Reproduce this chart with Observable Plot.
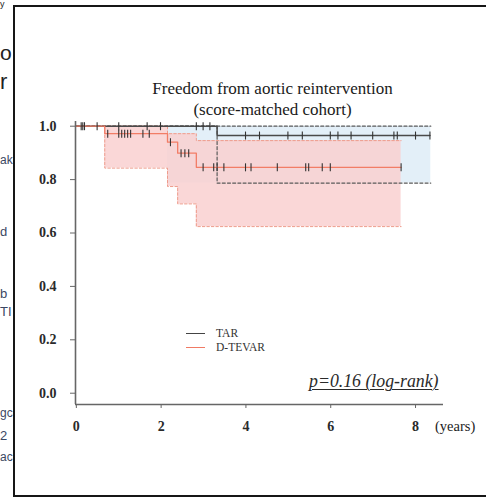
<!DOCTYPE html>
<html><head><meta charset="utf-8">
<script src="https://cdn.jsdelivr.net/npm/d3@7"></script>
<script src="https://cdn.jsdelivr.net/npm/@observablehq/plot@0.6"></script>
<style>
html,body{margin:0;padding:0;background:#fff;width:486px;height:499px;overflow:hidden;}
body{position:relative;font-family:"Liberation Serif","Times New Roman",serif;color:#222;}
#frame{position:absolute;left:13px;top:5px;width:520px;height:492px;border:2.5px solid #161616;box-sizing:border-box;}
#title{position:absolute;left:0;width:545px;top:77.5px;text-align:center;font-size:17px;line-height:21px;color:#1a1a1a;}
#chart{position:absolute;left:0;top:112px;}
#legend{position:absolute;left:186px;top:326px;font-size:11.5px;line-height:14.4px;color:#333;}
#legend div{display:flex;align-items:center;}
#legend span.sw{display:inline-block;width:19px;height:0;border-top:1.3px solid;margin-right:11px;}
#pval{position:absolute;left:309px;top:373px;font-size:17.8px;line-height:17px;font-style:italic;text-decoration:underline;text-decoration-thickness:1px;text-underline-offset:2px;color:#2a2a2a;}
#years{position:absolute;left:435px;top:418px;font-size:14.5px;line-height:17px;color:#222;}
.frag{position:absolute;left:0;font-family:"Liberation Sans","DejaVu Sans",sans-serif;white-space:nowrap;line-height:1;}
</style></head>
<body>
<div class="frag" style="top:0px;font-size:9px;color:#222;">y</div>
<div class="frag" style="top:42px;font-size:21px;color:#222;">o</div>
<div class="frag" style="top:71px;font-size:22px;color:#222;">r</div>
<div class="frag" style="top:154px;font-size:12px;color:#3b4763;">ak</div>
<div class="frag" style="top:225px;font-size:13px;color:#3b4763;">d</div>
<div class="frag" style="top:287px;font-size:13px;color:#3b4763;">b</div>
<div class="frag" style="top:305px;font-size:13px;color:#3b4763;">TI</div>
<div class="frag" style="top:407px;font-size:12px;color:#3b4763;">gc</div>
<div class="frag" style="top:429px;font-size:13px;color:#3b4763;">2</div>
<div class="frag" style="top:451px;font-size:12px;color:#3b4763;">ac</div>
<div id="frame"></div>
<div id="title">Freedom from aortic reintervention<br>(score-matched cohort)</div>
<div id="chart"></div>
<div id="legend">
  <div><span class="sw" style="border-color:#444"></span>TAR</div>
  <div><span class="sw" style="border-color:#f07a64"></span>D-TEVAR</div>
</div>
<div id="pval">p=0.16 (log-rank)</div>
<div id="years">(years)</div>
<script>
// ---- data ----
const groups = ["TAR", "D-TEVAR"];
const tarTime = [0, 3.32, 8.34];
const tarSurv = [1, 0.965, 0.965];
const tevTime = [0, 0.67, 2.15, 2.39, 2.83, 7.66];
const tevSurv = [1, 0.972, 0.940, 0.899, 0.846, 0.846];

const tarCITime = [0, 3.32, 8.36];
const tarCILow  = [1, 0.787, 0.787];
const tarCIHigh = [1, 1, 1];
const tarShadeTime = [2.15, 8.36];
const tarShadeLow  = [0.787, 0.787];
const tarShadeHigh = [1, 1];

const tevCITime = [0.67, 2.15, 2.39, 2.83, 7.66];
const tevCILow  = [0.843, 0.774, 0.709, 0.624, 0.624];
const tevCIHigh = [1.0, 0.972, 0.972, 0.946, 0.946];

const tarCensor = [0.114, 0.152, 0.192, 0.49, 1.0, 1.67, 1.985, 2.83, 2.99, 3.15,
                   3.99, 4.32, 4.99, 5.33, 5.99, 6.17, 6.48, 6.99, 7.49, 7.57, 8.0, 8.34];
const tevCensor = [0.74, 1.0, 1.07, 1.14, 1.21, 1.28, 1.57, 1.72, 2.22, 2.47, 2.56, 2.65,
                   2.99, 3.24, 3.32, 3.48, 3.99, 4.12, 4.74, 5.41, 5.48, 5.80, 5.99, 7.66];

const xTicks = [0, 2, 4, 6, 8];
const yTicks = [0, 0.2, 0.4, 0.6, 0.8, 1.0];
const xDomain = [-0.02, 8.66];
const yDomain = [-0.0423, 1.0176];

// ---- build tables ----
const zip = (t, ...cols) => t.map((v, i) => ({t: v, a: cols[0]?.[i], b: cols[1]?.[i]}));
const stepAt = (times, surv, x) => { let s = surv[0]; times.forEach((t, i) => { if (t <= x) s = surv[i]; }); return s; };
const tarLine = zip(tarTime, tarSurv);
const tevLine = zip(tevTime, tevSurv);
const tarShade = zip(tarShadeTime, tarShadeLow, tarShadeHigh);
const tevCI = zip(tevCITime, tevCILow, tevCIHigh);
const tevLowLine = [{t: tevCITime[0], a: tevCIHigh[0]}, ...zip(tevCITime, tevCILow)];
const censor = [
  ...tarCensor.map(t => ({t, s: stepAt(tarTime, tarSurv, t), g: groups[0]})),
  ...tevCensor.map(t => ({t, s: stepAt(tevTime, tevSurv, t), g: groups[1]}))
];

const vbar = {draw(ctx, size) { const h = Math.sqrt(size / Math.PI); ctx.moveTo(0, -h); ctx.lineTo(0, h); }};
const blue = "#e3eff8", pink = "#f9cfcf", grayDash = "#5a5a5a", pinkDash = "#ee9c8c";
const tarColor = "#4a4a4a", tevColor = "#f27d66";

const chart = Plot.plot({
  width: 486, height: 387,
  marginLeft: 75, marginRight: 43, marginTop: 9, marginBottom: 95,
  style: {fontFamily: '"Liberation Serif","Times New Roman",serif', background: "transparent"},
  x: {domain: xDomain},
  y: {domain: yDomain},
  marks: [
    Plot.areaY(tarShade, {x: "t", y1: "a", y2: "b", curve: "step-after", fill: blue}),
    Plot.areaY(tevCI, {x: "t", y1: "a", y2: "b", curve: "step-after", fill: pink, fillOpacity: 0.84}),
    Plot.lineY(zip(tarCITime, tarCILow), {x: "t", y: "a", curve: "step-after", stroke: grayDash, strokeWidth: 1.2, strokeDasharray: "3,2.2"}),
    Plot.lineY(zip(tarCITime, tarCIHigh), {x: "t", y: "a", curve: "step-after", stroke: grayDash, strokeWidth: 1.2, strokeDasharray: "3,2.2"}),
    Plot.lineY(tevLowLine, {x: "t", y: "a", curve: "step-after", stroke: pinkDash, strokeWidth: 1, strokeDasharray: "2.5,2"}),
    Plot.lineY(zip(tevCITime, tevCIHigh), {x: "t", y: "a", curve: "step-after", stroke: pinkDash, strokeWidth: 1, strokeDasharray: "2.5,2"}),
    Plot.lineY(tarLine, {x: "t", y: "a", curve: "step-after", stroke: tarColor, strokeWidth: 1.5}),
    Plot.lineY(tevLine, {x: "t", y: "a", curve: "step-after", stroke: tevColor, strokeWidth: 1.3}),
    Plot.dot(censor, {x: "t", y: "s", symbol: vbar, r: 4, stroke: "#333", strokeWidth: 1.1, fill: "none"}),
    Plot.ruleX([xDomain[0]], {stroke: "#666", strokeWidth: 1.6}),
    Plot.ruleY([yDomain[0]], {stroke: "#666", strokeWidth: 1.6}),
    Plot.axisY({ticks: yTicks, tickFormat: d3.format(".1f"), tickSize: 5, tickPadding: 14, label: null,
                fontSize: 14, fontWeight: "bold", stroke: "#666", fill: "#2a2a2a"}),
    Plot.axisX({ticks: xTicks, tickFormat: d3.format("d"), tickSize: 4, tickPadding: 13, label: null,
                fontSize: 14, fontWeight: "bold", stroke: "#666", fill: "#2a2a2a"})
  ]
});
document.getElementById("chart").appendChild(chart);
</script>
</body></html>
